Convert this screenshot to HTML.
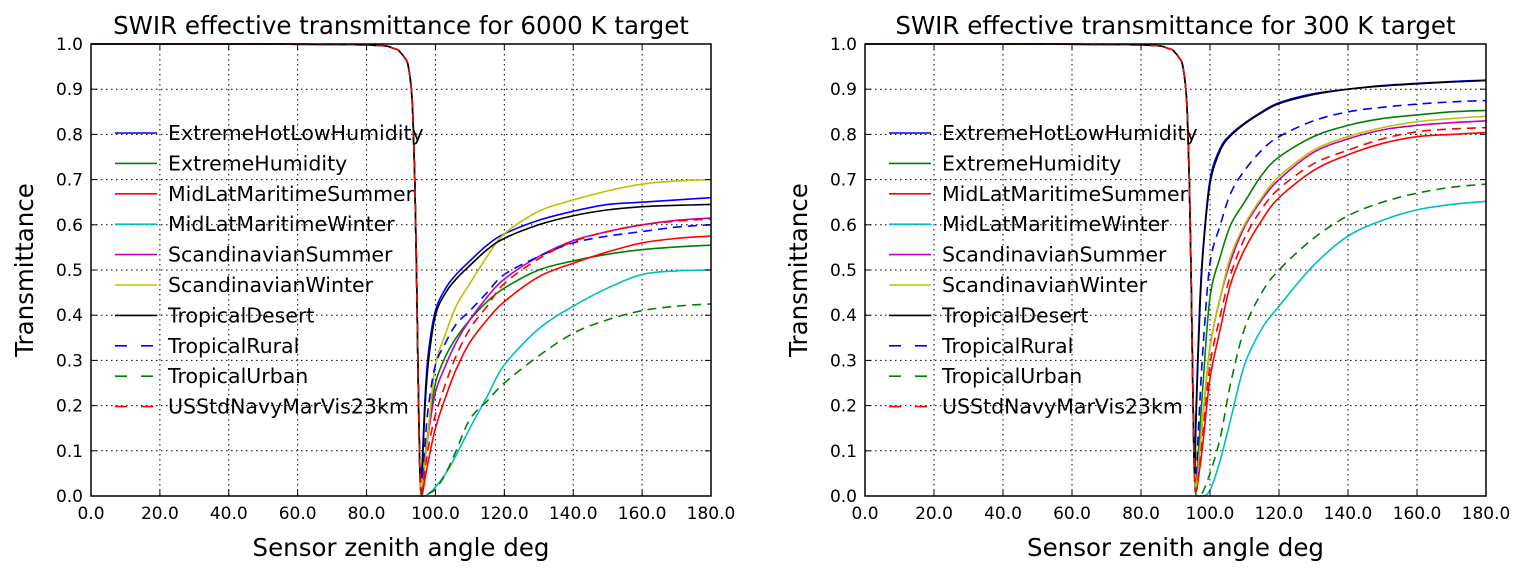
<!DOCTYPE html>
<html><head><meta charset="utf-8"><style>
html,body{margin:0;padding:0;background:#fff}
svg{display:block;font-family:"DejaVu Sans","Liberation Sans",sans-serif}
</style></head><body>
<svg id="fig" width="1530" height="575" viewBox="0 0 1530 575" xmlns="http://www.w3.org/2000/svg"></svg>
<script>
const angles = [0,40,80,88,90,91,92,93,93.5,94,94.5,95,95.5,96,97,98,100,103,106,110,115,120,130,140,150,160,170,180];
const seriesNames = ["ExtremeHotLowHumidity","ExtremeHumidity","MidLatMaritimeSummer","MidLatMaritimeWinter","ScandinavianSummer","ScandinavianWinter","TropicalDesert","TropicalRural","TropicalUrban","USStdNavyMarVis23km"];
const xTicks = [0,20,40,60,80,100,120,140,160,180];
const yTicks = [0,0.1,0.2,0.3,0.4,0.5,0.6,0.7,0.8,0.9,1.0];
// Plot 1 (6000 K) values, one array per series
const p1_extremeHot = [1,1,0.998,0.99,0.98,0.97,0.955,0.9,0.83,0.7,0.5,0.25,0.05, 0.05,0.22,0.32,0.41,0.46,0.49,0.52,0.555,0.58,0.61,0.63,0.645,0.65,0.655,0.66];
const p1_extremeHum = [1,1,0.998,0.99,0.98,0.97,0.955,0.9,0.83,0.7,0.5,0.25,0.05, 0.01,0.09,0.15,0.25,0.31,0.35,0.39,0.43,0.46,0.50,0.52,0.535,0.545,0.551,0.555];
const p1_mlmSummer = [1,1,0.998,0.99,0.98,0.97,0.955,0.9,0.83,0.7,0.5,0.25,0.05, 0,0.04,0.08,0.15,0.22,0.28,0.34,0.39,0.43,0.485,0.515,0.54,0.56,0.57,0.575];
const p1_mlmWinter = [1,1,0.998,0.99,0.98,0.97,0.955,0.9,0.83,0.7,0.5,0.25,0.05, 0,0,0.005,0.02,0.05,0.09,0.15,0.22,0.29,0.37,0.42,0.46,0.49,0.498,0.50];
const p1_scSummer = [1,1,0.998,0.99,0.98,0.97,0.955,0.9,0.83,0.7,0.5,0.25,0.05, 0.01,0.08,0.14,0.23,0.29,0.34,0.39,0.44,0.48,0.53,0.565,0.585,0.60,0.61,0.615];
const p1_scWinter = [1,1,0.998,0.99,0.98,0.97,0.955,0.9,0.83,0.7,0.5,0.25,0.05, 0.02,0.08,0.15,0.29,0.36,0.42,0.47,0.53,0.58,0.63,0.655,0.675,0.69,0.697,0.70];
const p1_trDesert = [1,1,0.998,0.99,0.98,0.97,0.955,0.9,0.83,0.7,0.5,0.25,0.05, 0.04,0.2,0.3,0.40,0.45,0.48,0.51,0.545,0.57,0.60,0.62,0.633,0.64,0.643,0.645];
const p1_trRural = [1,1,0.998,0.99,0.98,0.97,0.955,0.9,0.83,0.7,0.5,0.25,0.05, 0.03,0.12,0.2,0.29,0.34,0.38,0.41,0.45,0.49,0.53,0.56,0.575,0.585,0.595,0.60];
const p1_trUrban = [1,1,0.998,0.99,0.98,0.97,0.955,0.9,0.83,0.7,0.5,0.25,0.05, 0,0,0.005,0.015,0.05,0.1,0.17,0.21,0.25,0.31,0.36,0.39,0.41,0.42,0.425];
const p1_usStd = [1,1,0.998,0.99,0.98,0.97,0.955,0.9,0.83,0.7,0.5,0.25,0.05, 0.01,0.06,0.11,0.18,0.25,0.31,0.37,0.42,0.47,0.525,0.563,0.585,0.60,0.608,0.613];
// Plot 2 (300 K)
const p2_extremeHot = [1,1,0.998,0.99,0.98,0.97,0.955,0.9,0.83,0.7,0.5,0.25,0.05, 0.2,0.42,0.55,0.70,0.77,0.80,0.825,0.85,0.87,0.89,0.90,0.908,0.913,0.917,0.92];
const p2_extremeHum = [1,1,0.998,0.99,0.98,0.97,0.955,0.9,0.83,0.7,0.5,0.25,0.05, 0.03,0.14,0.25,0.44,0.53,0.60,0.65,0.71,0.75,0.795,0.82,0.835,0.843,0.85,0.853];
const p2_mlmSummer = [1,1,0.998,0.99,0.98,0.97,0.955,0.9,0.83,0.7,0.5,0.25,0.05, 0.01,0.06,0.12,0.26,0.37,0.47,0.545,0.61,0.66,0.72,0.755,0.78,0.795,0.80,0.804];
const p2_mlmWinter = [1,1,0.998,0.99,0.98,0.97,0.955,0.9,0.83,0.7,0.5,0.25,0.05, 0,0,0,0.013,0.08,0.17,0.29,0.37,0.42,0.51,0.575,0.61,0.633,0.645,0.652];
const p2_scSummer = [1,1,0.998,0.99,0.98,0.97,0.955,0.9,0.83,0.7,0.5,0.25,0.05, 0.02,0.1,0.18,0.33,0.44,0.52,0.595,0.655,0.70,0.76,0.79,0.81,0.82,0.826,0.83];
const p2_scWinter = [1,1,0.998,0.99,0.98,0.97,0.955,0.9,0.83,0.7,0.5,0.25,0.05, 0.02,0.1,0.18,0.33,0.44,0.53,0.60,0.66,0.707,0.765,0.795,0.815,0.828,0.835,0.84];
const p2_trDesert = [1,1,0.998,0.99,0.98,0.97,0.955,0.9,0.83,0.7,0.5,0.25,0.05, 0.18,0.4,0.54,0.69,0.765,0.797,0.823,0.848,0.868,0.888,0.9,0.907,0.912,0.916,0.919];
const p2_trRural = [1,1,0.998,0.99,0.98,0.97,0.955,0.9,0.83,0.7,0.5,0.25,0.05, 0.05,0.2,0.33,0.515,0.6,0.67,0.72,0.765,0.795,0.83,0.85,0.86,0.867,0.872,0.875];
const p2_trUrban = [1,1,0.998,0.99,0.98,0.97,0.955,0.9,0.83,0.7,0.5,0.25,0.05, 0,0,0.01,0.05,0.13,0.25,0.37,0.45,0.50,0.57,0.62,0.65,0.67,0.683,0.69];
const p2_usStd = [1,1,0.998,0.99,0.98,0.97,0.955,0.9,0.83,0.7,0.5,0.25,0.05, 0.01,0.07,0.14,0.29,0.40,0.49,0.57,0.635,0.68,0.735,0.765,0.79,0.806,0.812,0.815];

const colors = ["#0000ff","#008000","#ff0000","#00bfbf","#bf00bf","#bfbf00","#000000","#0000ff","#008000","#ff0000"];
const dashes = [null,null,null,null,null,null,null,"9,6","9,6","9,6"];
const NS = "http://www.w3.org/2000/svg";
const svg = document.getElementById("fig");
function mk(tag, attrs, parent){const e=document.createElementNS(NS,tag);for(const k in attrs)e.setAttribute(k,attrs[k]);(parent||svg).appendChild(e);return e;}
function smoothPath(pts){
 let d="M"+pts[0][0].toFixed(2)+","+pts[0][1].toFixed(2);
 for(let i=0;i<pts.length-1;i++){
  const p0=pts[i-1]||pts[i],p1=pts[i],p2=pts[i+1],p3=pts[i+2]||pts[i+1];
  let c1x=p1[0]+(p2[0]-p0[0])/6,c1y=p1[1]+(p2[1]-p0[1])/6;
  let c2x=p2[0]-(p3[0]-p1[0])/6,c2y=p2[1]-(p3[1]-p1[1])/6;
  const lo=Math.min(p1[1],p2[1]),hi=Math.max(p1[1],p2[1]);
  c1y=Math.min(hi,Math.max(lo,c1y));c2y=Math.min(hi,Math.max(lo,c2y));
  c1x=Math.min(p2[0],Math.max(p1[0],c1x));c2x=Math.min(p2[0],Math.max(p1[0],c2x));
  d+=` C${c1x.toFixed(2)},${c1y.toFixed(2)} ${c2x.toFixed(2)},${c2y.toFixed(2)} ${p2[0].toFixed(2)},${p2[1].toFixed(2)}`;
 }
 return d;
}

const panels = [
 {x0:91,x1:711,title:"SWIR effective transmittance for 6000 K target",key:"6000k",
  data:[p1_extremeHot,p1_extremeHum,p1_mlmSummer,p1_mlmWinter,p1_scSummer,p1_scWinter,p1_trDesert,p1_trRural,p1_trUrban,p1_usStd]},
 {x0:865,x1:1486,title:"SWIR effective transmittance for 300 K target",key:"300k",
  data:[p2_extremeHot,p2_extremeHum,p2_mlmSummer,p2_mlmWinter,p2_scSummer,p2_scWinter,p2_trDesert,p2_trRural,p2_trUrban,p2_usStd]}
];
const y0=496,y1=44;
panels.forEach(p=>{
 const sx=v=>p.x0+(v-0)/(180-0)*(p.x1-p.x0);
 const sy=v=>y0-(v-0)/(1-0)*(y0-y1);
 const g=mk("g",{});
 
 
 xTicks.forEach(t=>{const l=mk("line",{x1:sx(t),x2:sx(t),y1:y1,y2:y0,stroke:"#000","stroke-width":1,"stroke-dasharray":"1.5,3.5"},g);
  });
 yTicks.forEach(t=>{const l=mk("line",{x1:p.x0,x2:p.x1,y1:sy(t),y2:sy(t),stroke:"#000","stroke-width":1,"stroke-dasharray":"1.5,3.5"},g);
  });
 p.data.forEach((vals,i)=>{
  const pts=vals.map((v,j)=>[sx(angles[j]),sy(v)]);
  const a={d:smoothPath(pts),fill:"none",stroke:colors[i],"stroke-width":1.6,"stroke-linejoin":"round"};
  if(dashes[i])a["stroke-dasharray"]=dashes[i];
  const path=mk("path",a,g);
  
  
 });
 const fr=mk("rect",{x:p.x0,y:y1,width:p.x1-p.x0,height:y0-y1,fill:"none",stroke:"#000","stroke-width":1.5},g);
 
 xTicks.forEach(t=>{
  mk("line",{x1:sx(t),x2:sx(t),y1:y0,y2:y0-6,stroke:"#000"},g);
  mk("line",{x1:sx(t),x2:sx(t),y1:y1,y2:y1+6,stroke:"#000"},g);
  const tx=mk("text",{x:sx(t),y:y0+23,"font-size":17,"text-anchor":"middle"},g);tx.textContent=t.toFixed(1);
  
 });
 yTicks.forEach(t=>{
  mk("line",{x1:p.x0,x2:p.x0+6,y1:sy(t),y2:sy(t),stroke:"#000"},g);
  mk("line",{x1:p.x1,x2:p.x1-6,y1:sy(t),y2:sy(t),stroke:"#000"},g);
  const tx=mk("text",{x:p.x0-8,y:sy(t)+6,"font-size":17,"text-anchor":"end"},g);tx.textContent=t.toFixed(1);
  
 });
 const ti=mk("text",{x:(p.x0+p.x1)/2,y:34,"font-size":24.5,"text-anchor":"middle"},g);ti.textContent=p.title;
 
 const xl=mk("text",{x:(p.x0+p.x1)/2,y:556,"font-size":24.5,"text-anchor":"middle"},g);xl.textContent="Sensor zenith angle deg";
 
 const yx=p.x0-58;
 const yl=mk("text",{x:yx,y:(y0+y1)/2,"font-size":24.5,"text-anchor":"middle",transform:`rotate(-90 ${yx} ${(y0+y1)/2})`},g);yl.textContent="Transmittance";
 
 seriesNames.forEach((n,i)=>{
  const ly=133+i*30.4;
  const lg=mk("g",{},g);
  
  
  const a={x1:p.x0+24,x2:p.x0+66,y1:ly,y2:ly,stroke:colors[i],"stroke-width":1.6};
  if(dashes[i])a["stroke-dasharray"]="12,14";
  mk("line",a,lg);
  const tx=mk("text",{x:p.x0+77,y:ly+7,"font-size":20.5},lg);tx.textContent=n;
 });
});
</script>
</body></html>
